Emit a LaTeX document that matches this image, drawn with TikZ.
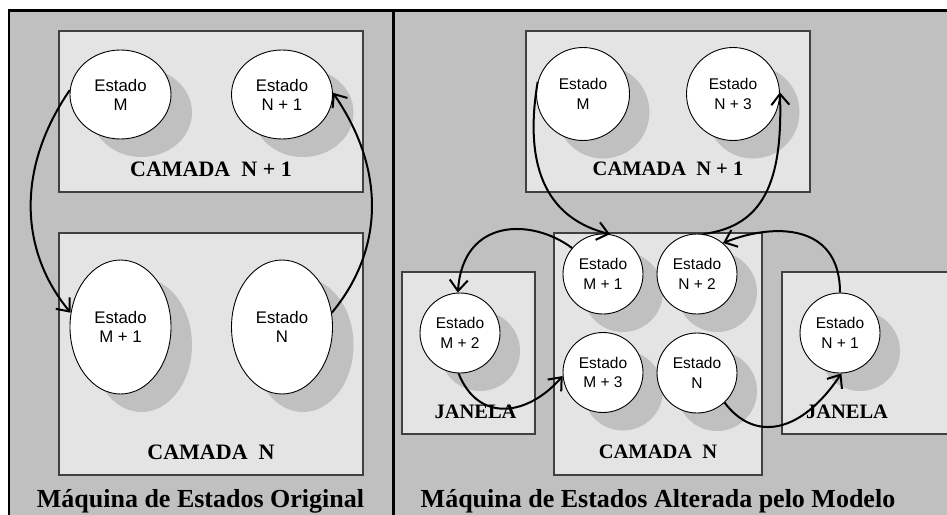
\documentclass[tikz,border=0pt]{standalone}
\usepackage{fontspec}
\setmainfont{Liberation Serif}
\newfontfamily\arialf{Liberation Sans}
\usetikzlibrary{shapes.geometric,shadows,arrows.meta}
\definecolor{outergray}{HTML}{C0C0C0}
\definecolor{boxgray}{HTML}{E4E4E4}
\definecolor{boxedge}{HTML}{404040}
\definecolor{shadowgray}{HTML}{C0C0C0}
\begin{document}
\begin{tikzpicture}[x=1pt,y=1pt,
  layerbox/.style={draw=boxedge, line width=1.1pt, fill=boxgray, inner sep=0pt},
  stateL/.style={ellipse, draw=black, line width=0.9pt, fill=white, inner sep=0pt,
    minimum width=101pt, align=center, font=\arialf\fontsize{16.8}{19}\selectfont,
    general shadow={fill=shadowgray, shadow xshift=21pt, shadow yshift=-18pt}},
  stateR/.style={circle, draw=black, line width=0.9pt, fill=white, inner sep=0pt,
    align=center, font=\arialf\fontsize{15.5}{19.5}\selectfont,
    general shadow={fill=shadowgray, shadow xshift=20pt, shadow yshift=-18pt}},
  trans/.style={line width=2pt, -{Straight Barb[length=11pt,width=18pt]}},
  lblL/.style={font=\bfseries\fontsize{22}{22}\selectfont, anchor=base, inner sep=0pt},
  lblR/.style={font=\bfseries\fontsize{20.5}{20.5}\selectfont, anchor=base, inner sep=0pt},
  ttl/.style={font=\bfseries\fontsize{26}{26}\selectfont, anchor=base, inner sep=0pt},
]
\useasboundingbox (0,0) rectangle (947,-514);
\clip (0,0) rectangle (947,-514);
\fill[white] (0,0) rectangle (947,-514);
% outer frame
\draw[fill=outergray, line width=2.5pt] (9,-10.5) rectangle (970,-540);
\draw[line width=2.5pt] (393.5,-10.5) -- (393.5,-540);

% ---------- left panel ----------
\node[layerbox, minimum width=304pt, minimum height=161pt] (bL1) at (211,-111.5) {};
\node[layerbox, minimum width=304pt, minimum height=242pt] (bL2) at (211,-354) {};
\node[lblL] (tL1) at (211,-176) {CAMADA\ \ N + 1};
\node[lblL] (tL2) at (211,-459) {CAMADA\ \ N};

\node[stateL, minimum height=89pt] (eM) at (120.5,-94.5) {Estado\\M};
\node[stateL, minimum height=89pt] (eN1) at (282,-94.5) {Estado\\N + 1};
\node[stateL, minimum height=134pt] (eM1) at (120.5,-327) {Estado\\M + 1};
\node[stateL, minimum height=134pt] (eN) at (282,-327) {Estado\\N};

\draw[trans] (eM.175) .. controls +(-55,-80) and +(-50,60) .. (eM1.164);
\draw[trans] (eN.16) .. controls +(50,60) and +(55,-80) .. (eN1.2);

\node[ttl] (T1) at (200.5,-507) {Máquina de Estados Original};

% ---------- right panel ----------
\node[layerbox, minimum width=284pt, minimum height=161pt] (bR1) at (668,-111.5) {};
\node[layerbox, minimum width=133pt, minimum height=162pt] (jL) at (468.5,-353) {};
\node[layerbox, minimum width=200pt, minimum height=162pt] (jR) at (882,-353) {};
\node[layerbox, minimum width=208pt, minimum height=242pt] (bR2) at (658,-354) {};
\node[lblR] (tR1) at (668,-175) {CAMADA\ \ N + 1};
\node[lblR] (tR2) at (658,-458) {CAMADA\ \ N};
\node[lblR] (tJ1) at (475.5,-418) {JANELA};
\node[lblR] (tJ2) at (847,-418) {JANELA};

\node[stateR, minimum size=93pt] (sM) at (583,-94) {Estado\\M};
\node[stateR, minimum size=93pt] (sN3) at (733,-94) {Estado\\N + 3};
\node[stateR, minimum size=80pt] (sM1) at (603,-274) {Estado\\M + 1};
\node[stateR, minimum size=80pt] (sN2) at (697,-274) {Estado\\N + 2};
\node[stateR, minimum size=80pt] (sM3) at (603,-372.5) {Estado\\M + 3};
\node[stateR, minimum size=80pt] (sN) at (697,-373) {Estado\\N};
\node[stateR, minimum size=80pt] (sM2) at (460,-333) {Estado\\M + 2};
\node[stateR, minimum size=80pt] (sN1) at (840,-333) {Estado\\N + 1};

\draw[trans] (sM.165) .. controls +(-15,-90) and +(-60,15) .. (sM1.80);
\draw[trans] (sN2.81) .. controls +(60,8) and +(3,-90) .. (sN3.2);
\draw[trans] (sM1.140) .. controls +(-40,30) and +(5,75) .. (sM2.93);
\draw[trans] (sM2.268) .. controls +(20,-50) and +(-35,-40) .. (sM3.185);
\draw[trans] (sN.313) .. controls +(30,-40) and +(-40,-60) .. (sN1.272);
\draw[trans] (sN1.90) .. controls +(0,70) and +(50,20) .. (sN2.50);

\node[ttl] (T2) at (658,-507) {Máquina de Estados Alterada pelo Modelo};
\end{tikzpicture}
\end{document}
